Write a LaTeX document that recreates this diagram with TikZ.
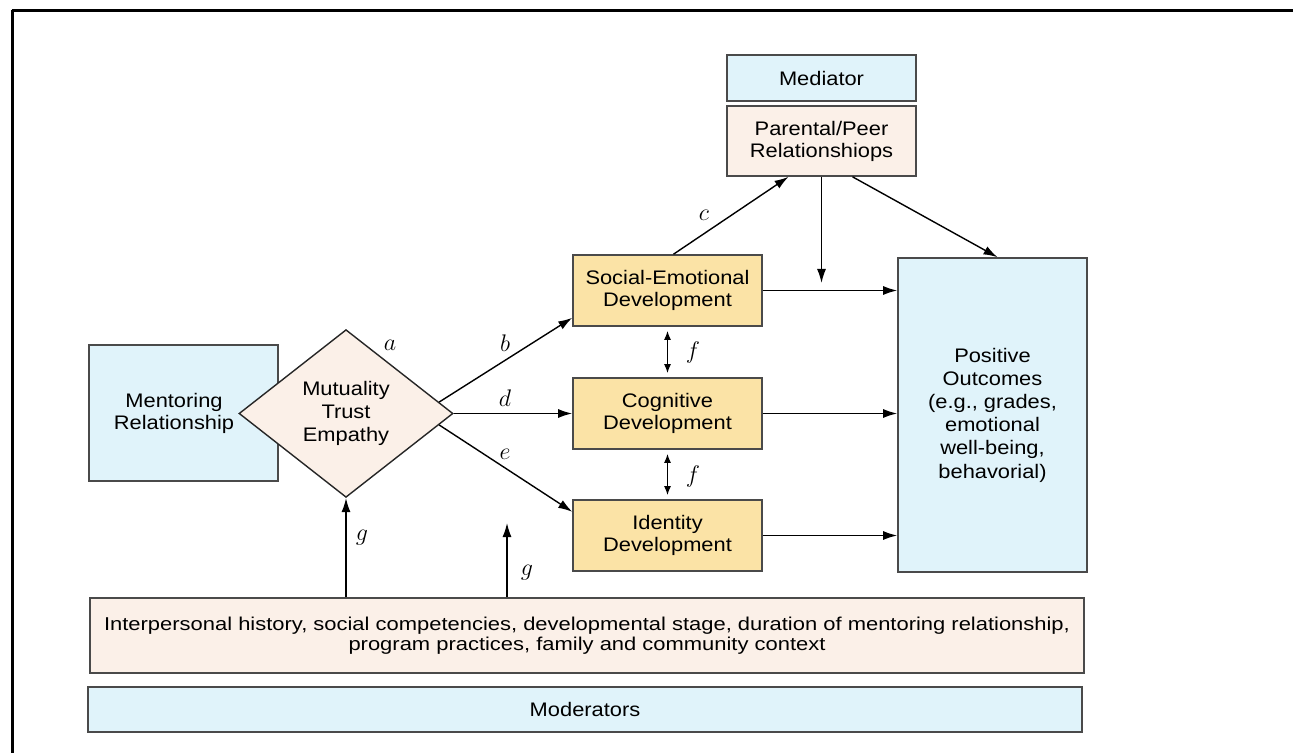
\documentclass[tikz,border=0pt]{standalone}
\usepackage{fontspec}
\setmainfont{Liberation Sans}
\newfontfamily\boxfont[FakeStretch=1.115]{Liberation Sans}
\newfontfamily\widefont[FakeStretch=1.18]{Liberation Sans}
\usetikzlibrary{positioning}
\usetikzlibrary{calc}
\usetikzlibrary{arrows.meta,shapes.geometric}
\definecolor{boxblue}{HTML}{E0F3FA}
\definecolor{boxpeach}{HTML}{FBF0E8}
\definecolor{boxyellow}{HTML}{FBE3A6}
\definecolor{boxline}{HTML}{4A4A4A}

\begin{document}
\begin{tikzpicture}[x=0.5pt,y=-0.5pt]
\tikzstyle{bluebox} =[rectangle,draw=boxline,line width=0.8pt,fill=boxblue,align=center,inner sep=2pt,font=\boxfont\fontsize{9.8}{11}\selectfont]
\tikzstyle{peachbox} =[bluebox,fill=boxpeach]
\tikzstyle{devbox} =[bluebox,fill=boxyellow,minimum width=94.5pt,minimum height=35.5pt]
\tikzstyle{cond} =[diamond,draw=black!85,line width=0.7pt,fill=boxpeach,align=center,inner sep=2pt,minimum width=107pt,minimum height=73.5pt,font=\boxfont\fontsize{9.8}{11.5}\selectfont]
\tikzstyle{conn} =[draw,line width=0.7pt,-{Latex[length=7pt,width=4.5pt]}]
\tikzstyle{dconn} =[conn,{Latex[length=4.5pt,width=3.5pt]}-{Latex[length=4.5pt,width=3.5pt]}]
\tikzstyle{coef} =[inner sep=0pt,font=\fontsize{12}{12}\selectfont]
\useasboundingbox (0,0) rectangle (1293,753);
\draw[line width=1.5pt] (12.3,753)--(12.3,10.5);
\draw[line width=1.5pt] (11.5,10.5)--(1293,10.5);

\node[bluebox,minimum width=94.5pt,minimum height=23pt](med) at (821.5,78){Mediator};
\node[peachbox,minimum width=94.5pt,minimum height=35pt](peer) at (821.5,141){Parental/Peer\\Relationshiops};

\node[devbox](social) at (667.5,290.5){Social-Emotional\\Development};
\node[devbox](cog) at (667.5,413.5){Cognitive\\Development};
\node[devbox](ident) at (667.5,535.5){Identity\\Development};

\node[bluebox,minimum width=94.5pt,minimum height=157pt,font=\boxfont\fontsize{9.8}{11.6}\selectfont](outcome) at (992.5,415){Positive\\Outcomes\\(e.g., grades,\\emotional\\well-being,\\behavorial)};
\node[bluebox,minimum width=94.5pt,minimum height=68pt](mentor) at (183.5,413){Mentoring\hspace*{9.5pt}\\Relationship\hspace*{9.5pt}};
\node[cond](mte) at (346,413.5){Mutuality\\Trust\\Empathy};

\node[peachbox,minimum width=497pt,minimum height=37.5pt,font=\widefont\fontsize{9.3}{10}\selectfont](context) at (587,635.5){Interpersonal history, social competencies, developmental stage, duration of mentoring relationship,\\program practices, family and community context};
\node[bluebox,minimum width=497pt,minimum height=22.5pt](mods) at (585,709.5){Moderators};

% paths out of the diamond
\draw[conn] (mte.7)--(social.196);
\draw[conn] (mte.east)--(cog.west);
\draw[conn] (mte.-7)--(ident.166);

% mediator paths
\draw[conn] ($(social.north)+(6,0)$)--($(peer.south)+(-33,0)$);
\coordinate (join) at (821.5,283);
\draw[conn] (peer.south)--(join);
\draw[conn] ($(peer.south)+(31,0)$)--($(outcome.north)+(5,0)$);

\draw[conn] (social.east)--(social.east -| outcome.west);
\draw[conn] (cog.east)--(cog.east -| outcome.west);
\draw[conn] (ident.east)--(ident.east -| outcome.west);

\draw[dconn] ($(social.south)+(0,4)$)--($(cog.north)+(0,-4)$);
\draw[dconn] ($(cog.south)+(0,4)$)--($(ident.north)+(0,-4)$);

% moderator paths
\draw[conn] (context.north -| mte.south)--(mte.south);
\coordinate (gtip) at (507,523);
\draw[conn] (context.north -| gtip)--(gtip);

\node[coef](la) at (390,345){$a$};
\node[coef](lb) at (505,343){$b$};
\node[coef](lc) at (704,215){$c$};
\node[coef](ld) at (505,398){$d$};
\node[coef](le) at (505,454){$e$};
\node[coef](lf1) at (693,352){$f$};
\node[coef](lf2) at (693,476){$f$};
\node[coef](lg1) at (362,538){$g$};
\node[coef](lg2) at (527,573){$g$};
\end{tikzpicture}
\end{document}
